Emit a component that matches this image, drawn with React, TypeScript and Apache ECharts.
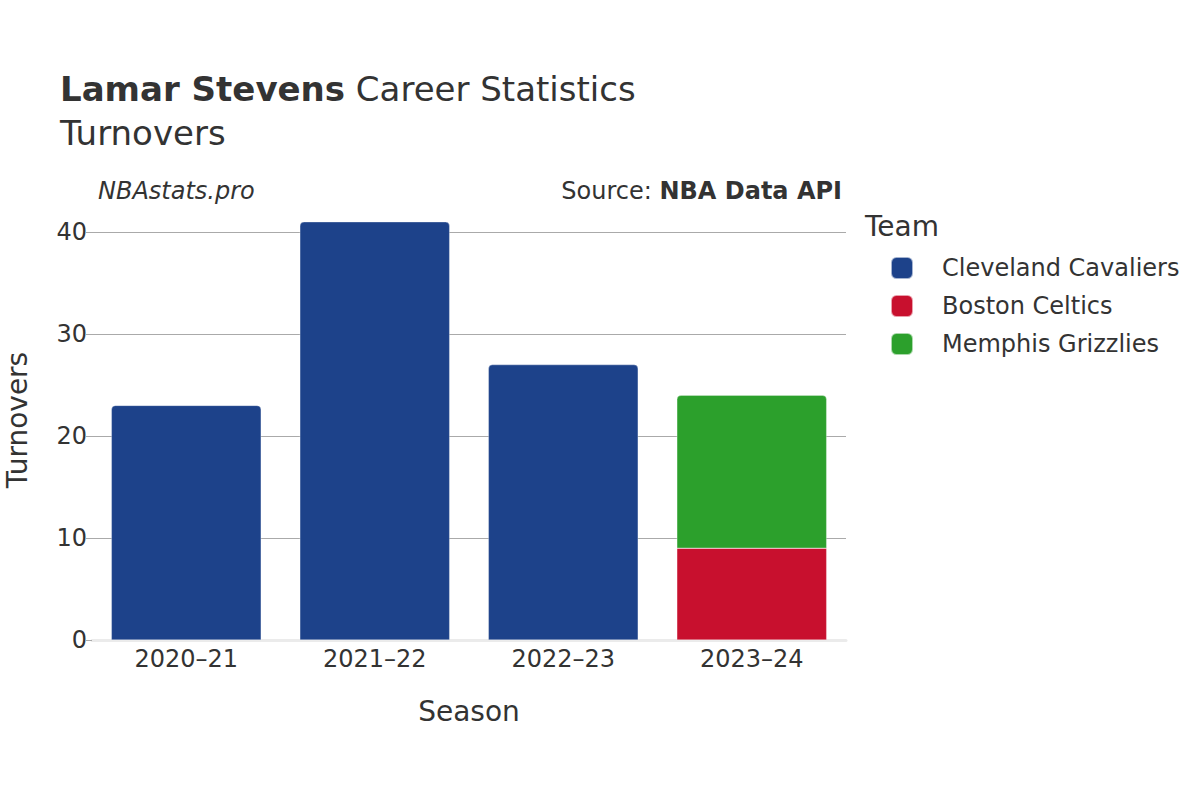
import React, { useEffect, useRef } from "react";
import * as echarts from "echarts";

const seasons = ["2020–21", "2021–22", "2022–23", "2023–24"];
const cavaliers = [23, 41, 27, null];
const celtics = [null, null, null, 9];
const grizzlies = [null, null, null, 15];
const yTicks = [0, 10, 20, 30, 40];
const teams = ["Cleveland Cavaliers", "Boston Celtics", "Memphis Grizzlies"];
const colors = ["#1d428a", "#c8102e", "#2ca02c"];

const FONT = "DejaVu Sans";
const INK = "#333333";

export default function App() {
  const ref = useRef<HTMLDivElement>(null);
  useEffect(() => {
    if (!ref.current) return;
    const chart = echarts.init(ref.current, null, { renderer: "svg" });
    const top = [4, 4, 0, 0];
    const mkSeries = (name: string, data: (number | null)[], color: string, radius: number[]) => ({
      name,
      type: "bar",
      stack: "total",
      data,
      clip: false,
      barCategoryGap: "20.5%",
      itemStyle: { color, borderRadius: radius, borderColor: "rgba(255,255,255,0.6)", borderWidth: 0.5 },
      emphasis: { disabled: true },
    });
    chart.setOption({
      animation: false,
      textStyle: { fontFamily: FONT },
      title: [
        {
          text: "{b|Lamar Stevens}{n| Career Statistics}",
          left: 60,
          top: 72,
          padding: 0,
          textStyle: {
            fontWeight: "normal",
            rich: {
              b: { fontFamily: FONT, fontSize: 34, fontWeight: "bold", color: INK },
              n: { fontFamily: FONT, fontSize: 34, fontWeight: "normal", color: INK },
            },
          },
        },
        {
          text: "Turnovers",
          left: 60,
          top: 116,
          padding: 0,
          textStyle: { fontFamily: FONT, fontSize: 34, fontWeight: "normal", color: INK },
        },
        {
          text: "NBAstats.pro",
          left: 98,
          top: 179,
          padding: 0,
          textStyle: { fontFamily: FONT, fontSize: 24, fontStyle: "italic", fontWeight: "normal", color: INK },
        },
        {
          text: "{n|Source: }{b|NBA Data API}",
          right: 358,
          top: 179,
          padding: 0,
          textStyle: {
            fontWeight: "normal",
            rich: {
              n: { fontFamily: FONT, fontSize: 24, fontWeight: "normal", color: INK },
              b: { fontFamily: FONT, fontSize: 24, fontWeight: "bold", color: INK },
            },
          },
        },
        {
          text: "Team",
          left: 865,
          top: 212,
          padding: 0,
          textStyle: { fontFamily: FONT, fontSize: 28, fontWeight: "normal", color: INK },
        },
      ],
      graphic: [
        {
          type: "text",
          x: 17,
          y: 420,
          rotation: Math.PI / 2,
          style: {
            text: "Turnovers",
            fontFamily: FONT,
            fontSize: 28,
            fill: INK,
            align: "center",
            verticalAlign: "middle",
          },
        },
      ],
      legend: {
        data: teams,
        orient: "vertical",
        left: 890,
        top: 256,
        padding: 0,
        icon: "roundRect",
        itemWidth: 22,
        itemHeight: 22,
        itemGap: 14,
        selectedMode: false,
        textStyle: { fontFamily: FONT, fontSize: 24, color: INK, lineHeight: 22, height: 22, padding: [0, 0, 0, 24] },
      },
      grid: { left: 92, right: 354, top: 232, bottom: 160, containLabel: false, outerBoundsMode: "none" },
      xAxis: {
        type: "category",
        data: seasons,
        name: "Season",
        nameLocation: "middle",
        nameGap: 57,
        nameTextStyle: { fontFamily: FONT, fontSize: 28, color: INK },
        axisLine: { show: true, lineStyle: { color: "#ebebeb", width: 3 } },
        axisTick: { show: false },
        axisLabel: { fontFamily: FONT, fontSize: 24, color: INK, margin: 7 },
      },
      yAxis: {
        type: "value",
        min: 0,
        max: 40,
        interval: 10,
        axisLine: { show: false },
        axisTick: { show: true, length: 6, lineStyle: { color: "#aaaaaa" } },
        axisLabel: {
          fontFamily: FONT,
          fontSize: 24,
          color: INK,
          margin: 5,
          formatter: (v: number) => (yTicks.includes(v) ? String(v) : ""),
        },
        splitLine: { show: true, lineStyle: { color: "#aaaaaa", width: 1 } },
      },
      series: [
        mkSeries(teams[0], cavaliers, colors[0], top),
        mkSeries(teams[1], celtics, colors[1], [0, 0, 0, 0]),
        mkSeries(teams[2], grizzlies, colors[2], top),
      ],
    });
    return () => chart.dispose();
  }, []);
  return <div ref={ref} style={{ position: "fixed", left: 0, top: 0, width: 1200, height: 800, background: "#fff" }} />;
}
